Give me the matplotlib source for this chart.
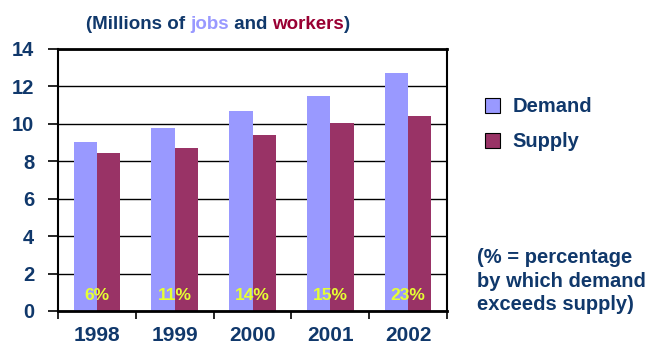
import matplotlib.pyplot as plt
import numpy as np
from matplotlib.offsetbox import TextArea, HPacker, AnchoredOffsetbox
from matplotlib.patches import Patch

plt.rcParams['font.family'] = ['Liberation Sans', 'DejaVu Sans']
plt.rcParams['font.weight'] = 'bold'

years = ['1998', '1999', '2000', '2001', '2002']
demand = [9.0, 9.75, 10.7, 11.5, 12.7]
supply = [8.45, 8.7, 9.4, 10.05, 10.4]
pct_labels = ['6%', '11%', '14%', '15%', '23%']

navy = '#10386B'
c_demand = '#9999FF'
c_supply = '#993366'

fig = plt.figure(figsize=(6.55, 3.44), dpi=100)
ax = fig.add_axes([0.0885, 0.096, 0.594, 0.762])

x = np.arange(len(years))
w = 0.3
ax.bar(x - w / 2, demand, w, color=c_demand, zorder=2)
ax.bar(x + w / 2, supply, w, color=c_supply, zorder=2)

for xi, lab in zip(x, pct_labels):
    ax.text(xi, 0.85, lab, ha='center', va='center', color='#E5FF33',
            fontsize=12.5, fontweight='bold', zorder=3)

ax.set_xlim(-0.5, len(years) - 0.5)
ax.set_ylim(0, 14)
ax.set_yticks(np.arange(0, 15, 2))
ax.yaxis.grid(True, color='black', linewidth=1, zorder=0)
ax.set_axisbelow(True)
ax.set_xticks(x)
ax.set_xticklabels(years)
ax.set_xticks(np.arange(-0.5, len(years), 1), minor=True)
ax.tick_params(axis='x', which='major', length=0, pad=11, labelsize=15, labelcolor=navy)
ax.tick_params(axis='x', which='minor', length=6, width=1.2, direction='out')
ax.tick_params(axis='y', length=7, width=1.2, direction='out', pad=10,
               labelsize=14.5, labelcolor=navy)
for lab in ax.get_xticklabels() + ax.get_yticklabels():
    lab.set_fontweight('bold')
for s in ax.spines.values():
    s.set_linewidth(1.5)
ax.spines['top'].set_linewidth(2)
ax.spines['bottom'].set_linewidth(2)

# title with coloured words
parts = [('(Millions of ', navy), ('jobs', c_demand), (' and ', navy),
         ('workers', '#990033'), (')', navy)]
areas = [TextArea(t, textprops=dict(color=c, fontsize=13.5, fontweight='bold'))
         for t, c in parts]
box = HPacker(children=areas, align='baseline', pad=0, sep=0)
anch = AnchoredOffsetbox(loc='center', child=box, frameon=False, pad=0, borderpad=0,
                         bbox_to_anchor=(0.333, 0.928), bbox_transform=fig.transFigure)
fig.add_artist(anch)

handles = [Patch(facecolor=c_demand, edgecolor='black', linewidth=0.8, label='Demand'),
           Patch(facecolor=c_supply, edgecolor='black', linewidth=0.8, label='Supply')]
leg = fig.legend(handles=handles, loc='upper left', bbox_to_anchor=(0.713, 0.77),
                 frameon=False, handlelength=0.75, handleheight=0.75,
                 handletextpad=0.6, labelspacing=0.8,
                 prop=dict(weight='bold', size=14.5))
for t in leg.get_texts():
    t.set_color(navy)

fig.text(0.728, 0.183, '(% = percentage\nby which demand\nexceeds supply)',
         color=navy, fontsize=14.5, fontweight='bold', ha='left', va='center',
         linespacing=1.3)

fig.savefig('out.png', dpi=100)
